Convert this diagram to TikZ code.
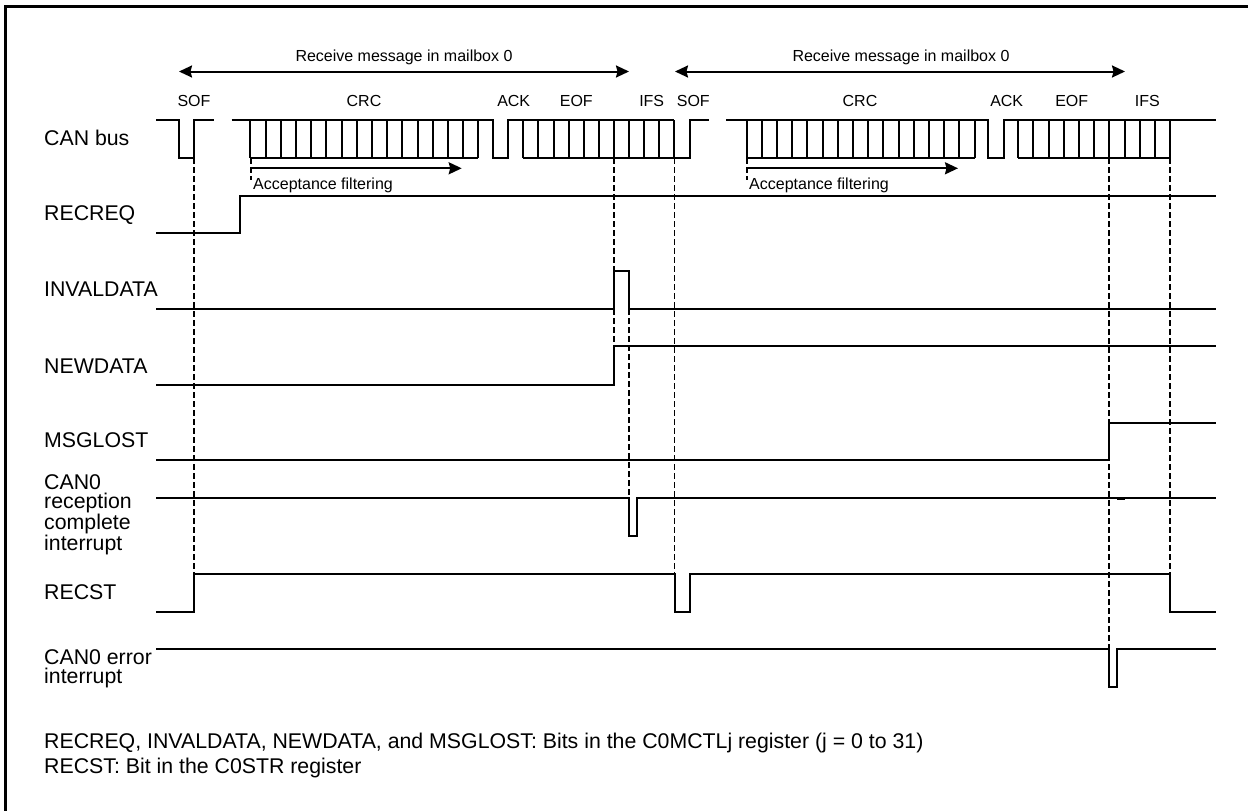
\documentclass[tikz,border=0pt]{standalone}
\usepackage{fontspec}
\setmainfont{Liberation Sans}
\usetikzlibrary{arrows.meta}
\tikzset{
  wave/.style={line width=2pt,line join=miter},
  guide/.style={line width=1.7pt,dash pattern=on 6pt off 3pt},
  span/.style={line width=2pt,{Stealth[length=13pt,width=12pt,inset=1.5pt]}-{Stealth[length=13pt,width=12pt,inset=1.5pt]}},
  onearrow/.style={line width=2pt,-{Stealth[length=13pt,width=12pt,inset=1.5pt]}},
  lab/.style={anchor=base west,inner sep=0pt,font=\fontsize{21.3}{19}\selectfont,align=left},
  small/.style={anchor=base,inner sep=0pt,font=\fontsize{16}{18}\selectfont},
}
\newcommand{\cells}[3]{% x start, count, step
  \foreach \k in {0,...,#2}{\draw[wave] ({#1+\k*#3},120) -- ({#1+\k*#3},158);}
  \draw[wave] (#1,120) -- ({#1+#2*#3},120);
  \draw[wave] (#1,158) -- ({#1+#2*#3},158);
}
\begin{document}
\begin{tikzpicture}[x=1pt,y=-1pt]
\useasboundingbox (0,0) rectangle (1248,811);
\draw[line width=2.5pt] (5.5,811) -- (5.5,6.5) -- (1248,6.5);
% guides
\draw[guide] (194.3,158) -- (194.3,574);
\draw[guide] (614,158) -- (614,271);
\draw[guide] (614,309) -- (614,346);
\draw[guide] (629.3,309) -- (629.3,498);
\draw[guide] (674.5,158) -- (674.5,574);
\draw[guide] (1109,158) -- (1109,649);
\draw[guide] (1169.7,158) -- (1169.7,574);
\draw[guide] (251,158) -- (251,180);
\draw[guide] (747,158) -- (747,180);
% spans
\coordinate (a1) at (179,71.5); \coordinate (a2) at (629,71.5);
\coordinate (b1) at (675,71.5); \coordinate (b2) at (1125,71.5);
\draw[span] (a1) -- (a2);
\draw[span] (b1) -- (b2);
\node[small] (t1) at (404,61.5) {Receive message in mailbox 0};
\node[small] (t2) at (901,61.5) {Receive message in mailbox 0};
% field labels
\node[small] (sof1) at (194,106.7) {SOF};
\node[small] (crc1) at (364,106.7) {CRC};
\node[small] (ack1) at (513.7,106.7) {ACK};
\node[small] (eof1) at (576.3,106.7) {EOF};
\node[small] (ifs1) at (651.7,106.7) {IFS};
\node[small] (sof2) at (693.3,106.7) {SOF};
\node[small] (crc2) at (860,106.7) {CRC};
\node[small] (ack2) at (1006.7,106.7) {ACK};
\node[small] (eof2) at (1071.7,106.7) {EOF};
\node[small] (ifs2) at (1147.3,106.7) {IFS};
% CAN bus
\draw[wave] (156,120) -- (179.3,120) -- (179.3,158) -- (194.3,158) -- (194.3,120) -- (214,120);
\draw[wave] (231.7,120) -- (250.3,120);
\cells{250.3}{15}{15.2}
\draw[wave] (478.3,120) -- (493.3,120) -- (493.3,158) -- (508.3,158) -- (508.3,120) -- (523.3,120);
\cells{523.3}{10}{15.1}
\draw[wave] (674.3,158) -- (690,158) -- (690,120) -- (709,120);
\draw[wave] (726.3,120) -- (746.5,120);
\cells{746.5}{15}{15.2}
\draw[wave] (974.5,120) -- (988.3,120) -- (988.3,158) -- (1003.7,158) -- (1003.7,120) -- (1018.3,120);
\cells{1018.3}{10}{15.17}
\draw[wave] (1170,120) -- (1216,120);
% acceptance filtering
\coordinate (f1) at (250.3,168.3); \coordinate (f2) at (461.7,168.3);
\coordinate (f3) at (746.5,168.3); \coordinate (f4) at (958,168.3);
\draw[onearrow] (f1) -- (f2);
\draw[onearrow] (f3) -- (f4);
\node[small,anchor=base west] (af1) at (253,189) {Acceptance filtering};
\node[small,anchor=base west] (af2) at (749,189) {Acceptance filtering};
% RECREQ
\draw[wave] (156,233) -- (240,233) -- (240,196) -- (1216,196);
% INVALDATA
\draw[wave] (156,309.3) -- (614,309.3) -- (614,271) -- (629.3,271) -- (629.3,309.3) -- (1216,309.3);
% NEWDATA
\draw[wave] (156,385) -- (614,385) -- (614,346.3) -- (1216,346.3);
% MSGLOST
\draw[wave] (156,460.3) -- (1109,460.3) -- (1109,422.7) -- (1216,422.7);
% interrupt
\draw[wave] (156,498.3) -- (629.3,498.3) -- (629.3,536) -- (636.8,536) -- (636.8,498.3) -- (1216,498.3);
\draw[line width=2.8pt] (1117,498.3) -- (1125,498.3);
% RECST
\draw[wave] (156,611.5) -- (194.3,611.5) -- (194.3,574) -- (674.5,574) -- (674.5,611.5) -- (690,611.5) -- (690,574) -- (1169.7,574) -- (1169.7,611.5) -- (1216,611.5);
% error
\draw[wave] (156,649) -- (1109,649) -- (1109,687) -- (1117.3,687) -- (1117.3,649) -- (1216,649);
% signal labels
\node[lab] (l1) at (44,145.5) {CAN bus};
\node[lab] (l2) at (44,220.7) {RECREQ};
\node[lab] (l3) at (44,296.7) {INVALDATA};
\node[lab] (l4) at (44,373.3) {NEWDATA};
\node[lab] (l5) at (44,447.3) {MSGLOST};
\node[lab] (l6) at (44,550) {CAN0\\reception\\complete\\interrupt};
\node[lab] (l7) at (44,599) {RECST};
\node[lab] (l8) at (44,683.3) {CAN0 error\\interrupt};
\node[lab] (n1) at (44,748.8) {RECREQ, INVALDATA, NEWDATA, and MSGLOST: Bits in the C0MCTLj register (j = 0 to 31)};
\node[lab] (n2) at (44,773.3) {RECST: Bit in the C0STR register};
\end{tikzpicture}
\end{document}
